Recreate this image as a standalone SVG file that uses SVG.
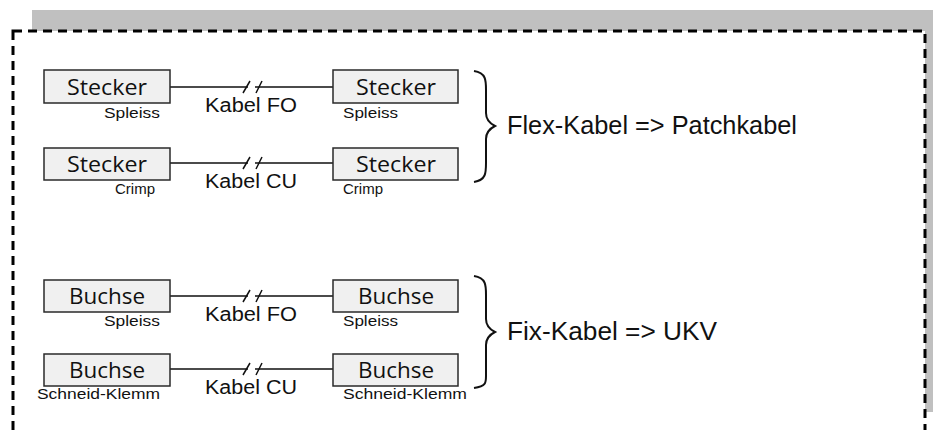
<svg xmlns="http://www.w3.org/2000/svg" width="933" height="430" viewBox="0 0 933 430">
<style>
.box{fill:#f0f0f0;stroke:#2a2a2a;stroke-width:1.5}
.btxt{font-family:"Open Sans","Noto Sans",sans-serif;font-size:22px;fill:#111;text-anchor:middle}
.lbl{font-family:"Liberation Sans",Arial,sans-serif;font-size:20px;fill:#111;text-anchor:middle}
.sub{font-family:"Liberation Sans",Arial,sans-serif;font-size:15px;fill:#111}
.big{font-family:"Liberation Sans",Arial,sans-serif;font-size:25px;fill:#111}
.wire{stroke:#111;stroke-width:1.5;fill:none}
.brace{stroke:#111;stroke-width:2;fill:none}
</style>
<rect x="0" y="0" width="933" height="430" fill="#fff"/>
<g id="frame">
<rect x="32" y="10" width="901" height="402" fill="#c0c0c0"/>
<rect x="13" y="31" width="912" height="420" fill="#fff" stroke="#000" stroke-width="3" stroke-dasharray="9 6"/>
</g>
<g id="connectors">
<path class="wire" d="M170 87H248M255 87H333"/>
<path class="wire" d="M243 93L250 81M256 93L262 81"/>
<path class="wire" d="M170 163H248M255 163H333"/>
<path class="wire" d="M243 169L250 157M256 169L262 157"/>
<path class="wire" d="M170 296H248M255 296H333"/>
<path class="wire" d="M243 302L250 290M256 302L262 290"/>
<path class="wire" d="M170 369H248M255 369H333"/>
<path class="wire" d="M243 375L250 363M256 375L262 363"/>
<text class="lbl" x="251" y="112" textLength="92" lengthAdjust="spacingAndGlyphs">Kabel FO</text>
<text class="lbl" x="251" y="188" textLength="92" lengthAdjust="spacingAndGlyphs">Kabel CU</text>
<text class="lbl" x="251" y="321" textLength="92" lengthAdjust="spacingAndGlyphs">Kabel FO</text>
<text class="lbl" x="251" y="394" textLength="92" lengthAdjust="spacingAndGlyphs">Kabel CU</text>
</g>
<g id="n1"><rect class="box" x="44" y="70" width="126" height="33"/><text class="btxt" x="107" y="95" textLength="80" lengthAdjust="spacingAndGlyphs">Stecker</text><text class="sub" x="104" y="118" textLength="56" lengthAdjust="spacingAndGlyphs">Spleiss</text></g>
<g id="n2"><rect class="box" x="333" y="70" width="125" height="33"/><text class="btxt" x="396" y="95" textLength="80" lengthAdjust="spacingAndGlyphs">Stecker</text><text class="sub" x="343" y="118" textLength="55" lengthAdjust="spacingAndGlyphs">Spleiss</text></g>
<g id="n3"><rect class="box" x="44" y="148" width="126" height="32"/><text class="btxt" x="107" y="172" textLength="80" lengthAdjust="spacingAndGlyphs">Stecker</text><text class="sub" x="115" y="194" textLength="40" lengthAdjust="spacingAndGlyphs">Crimp</text></g>
<g id="n4"><rect class="box" x="333" y="148" width="125" height="32"/><text class="btxt" x="396" y="172" textLength="80" lengthAdjust="spacingAndGlyphs">Stecker</text><text class="sub" x="343" y="194" textLength="40" lengthAdjust="spacingAndGlyphs">Crimp</text></g>
<g id="n5"><rect class="box" x="44" y="280" width="126" height="32"/><text class="btxt" x="107" y="304" textLength="76" lengthAdjust="spacingAndGlyphs">Buchse</text><text class="sub" x="104" y="326" textLength="56" lengthAdjust="spacingAndGlyphs">Spleiss</text></g>
<g id="n6"><rect class="box" x="333" y="280" width="125" height="32"/><text class="btxt" x="396" y="304" textLength="76" lengthAdjust="spacingAndGlyphs">Buchse</text><text class="sub" x="343" y="326" textLength="55" lengthAdjust="spacingAndGlyphs">Spleiss</text></g>
<g id="n7"><rect class="box" x="44" y="354" width="126" height="32"/><text class="btxt" x="107" y="378" textLength="76" lengthAdjust="spacingAndGlyphs">Buchse</text><text class="sub" x="37" y="399" textLength="123" lengthAdjust="spacingAndGlyphs">Schneid-Klemm</text></g>
<g id="n8"><rect class="box" x="333" y="354" width="125" height="32"/><text class="btxt" x="396" y="378" textLength="76" lengthAdjust="spacingAndGlyphs">Buchse</text><text class="sub" x="343" y="399" textLength="124" lengthAdjust="spacingAndGlyphs">Schneid-Klemm</text></g>
<g id="g1">
<path class="brace" d="M474 71C486 73 486 80 486 90V113C486 119 489 123 495 126C489 129 486 133 486 139V163C486 173 486 180 474 182"/>
<text class="big" x="507" y="134" textLength="290" lengthAdjust="spacingAndGlyphs">Flex-Kabel =&gt; Patchkabel</text>
</g>
<g id="g2">
<path class="brace" d="M474 276C486 278 486 285 486 295V319C486 325 489 329 495 332C489 335 486 339 486 345V376C486 383 486 386 474 388"/>
<text class="big" x="507" y="340" textLength="210" lengthAdjust="spacingAndGlyphs">Fix-Kabel =&gt; UKV</text>
</g>
</svg>
